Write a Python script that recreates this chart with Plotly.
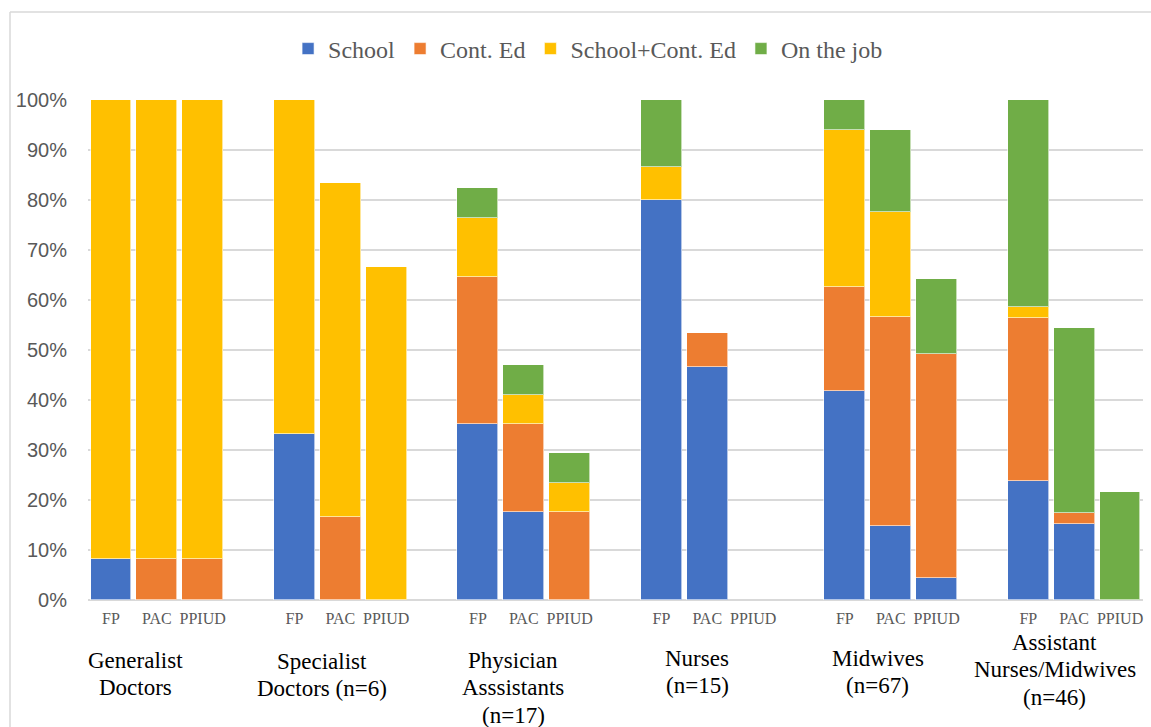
import plotly.graph_objects as go

# Cadres and the three service areas shown for each
groups = ["Generalist<br>Doctors", "Specialist<br>Doctors (n=6)",
          "Physician<br>Asssistants<br>(n=17)", "Nurses<br>(n=15)",
          "Midwives<br>(n=67)", "Assistant<br>Nurses/Midwives<br>(n=46)"]
services = ["FP", "PAC", "PPIUD"]

# Percent of providers by where training was received (FP, PAC, PPIUD per cadre)
school = [8.3, 0, 0,   33.3, 0, 0,   35.3, 17.6, 0,   80.0, 46.7, 0,
          41.8, 14.9, 4.5,   23.9, 15.2, 0]
cont_ed = [0, 8.3, 8.3,   0, 16.7, 0,   29.4, 17.6, 17.6,   0, 6.7, 0,
           20.9, 41.8, 44.8,   32.6, 2.2, 0]
school_cont = [91.7, 91.7, 91.7,   66.7, 66.7, 66.7,   11.8, 5.9, 5.9,   6.7, 0, 0,
               31.3, 20.9, 0,   2.2, 0, 0]
on_job = [0, 0, 0,   0, 0, 0,   5.9, 5.9, 5.9,   13.3, 0, 0,
          6.0, 16.4, 14.9,   41.3, 37.0, 21.7]

series = [("School", school, "#4472C4"),
          ("Cont. Ed", cont_ed, "#ED7D31"),
          ("School+Cont. Ed", school_cont, "#FFC000"),
          ("On the job", on_job, "#70AD47")]

# Slot positions: three bars per cadre, then one empty slot as a gap
xpos = []
for g in range(len(groups)):
    for s in range(len(services)):
        xpos.append(g * 4 + s)
ticktext = services * len(groups)

fig = go.Figure()
for name, vals, color in series:
    fig.add_trace(go.Bar(
        x=xpos, y=[v if v else None for v in vals], name=name, width=0.89,
        marker=dict(color=color, line=dict(color="rgba(255,255,255,0.6)", width=1)),
    ))

# Cadre labels: one annotation per line so the line spacing stays tight
PLOT_H = 500
label_dx = [-0.47, -0.4, -0.23, -0.22, -0.28, -0.42]   # shift from middle bar
first_line_px = [60, 61, 60, 58, 58, 42]                # below the baseline
LINE_PX = 27.5
for g, text in enumerate(groups):
    for i, line in enumerate(text.split("<br>")):
        py = first_line_px[g] + i * LINE_PX
        fig.add_annotation(
            x=g * 4 + 1 + label_dx[g], y=-py / PLOT_H, xref="x", yref="paper",
            text=line, showarrow=False, yanchor="middle", xanchor="center",
            font=dict(family="Liberation Serif", size=23, color="#000000"),
        )

# Outer chart frame
fig.add_shape(type="line", xref="paper", yref="paper",
              x0=(10 - 88) / 1055, x1=(10 - 88) / 1055,
              y0=1 + (100 - 12) / PLOT_H, y1=-0.3,
              line=dict(color="#d9d9d9", width=1.5))
fig.add_shape(type="line", xref="paper", yref="paper",
              x0=(10 - 88) / 1055, x1=1.02,
              y0=1 + (100 - 12) / PLOT_H, y1=1 + (100 - 12) / PLOT_H,
              line=dict(color="#d9d9d9", width=1.5))

fig.update_layout(
    width=1151, height=727,
    margin=dict(l=88, r=8, t=100, b=127),
    barmode="stack", bargap=0,
    plot_bgcolor="white", paper_bgcolor="white",
    legend=dict(orientation="h", x=0.474, xanchor="center", y=1.102, yanchor="middle",
                font=dict(family="Liberation Serif", size=24, color="#595959"),
                itemwidth=30, traceorder="normal"),
    xaxis=dict(range=[-0.5, 22.5], tickvals=xpos, ticktext=ticktext,
               tickfont=dict(family="Liberation Serif", size=16, color="#595959"),
               showgrid=False, zeroline=False, showline=False, ticks="",
               ticklabelstandoff=7),
    yaxis=dict(range=[0, 100], dtick=10, ticksuffix="%",
               tickfont=dict(family="Liberation Sans", size=20, color="#595959"),
               showgrid=True, gridcolor="#d9d9d9", gridwidth=1.5,
               zeroline=True, zerolinecolor="#d9d9d9", zerolinewidth=1.5,
               showline=False, ticks="", ticklabelstandoff=20),
)

fig.write_html("out.html")
